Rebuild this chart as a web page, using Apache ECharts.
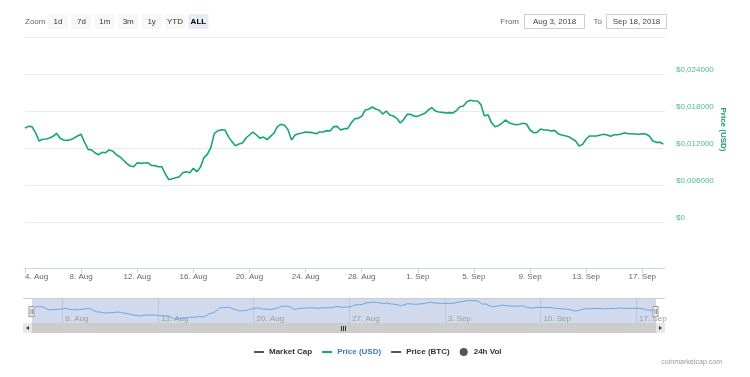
<!DOCTYPE html>
<html>
<head>
<meta charset="utf-8">
<script src="https://cdn.jsdelivr.net/npm/echarts@6/dist/echarts.min.js"></script>
<style>
html,body{margin:0;padding:0;background:#fff;}
#chart{width:750px;height:377px;}
</style>
</head>
<body>
<div id="chart"></div>
<script>
// ---------- data ----------
const seriesStart = '2018-08-04T00:00:00Z';
const stepHours = 6;
const priceUSD = [
 0.01524,0.01551,0.01546,0.01449,0.01314,0.01341,0.01346,0.01362,0.01389,0.01438,
 0.01357,0.01330,0.01324,0.01335,0.01362,0.01395,0.01422,0.01292,0.01178,0.01168,
 0.01119,0.01092,0.01130,0.01124,0.01168,0.01151,0.01092,0.01059,0.01005,0.00951,
 0.00908,0.00897,0.00962,0.00951,0.00957,0.00962,0.00919,0.00914,0.00897,0.00897,
 0.00778,0.00686,0.00703,0.00719,0.00735,0.00800,0.00816,0.00800,0.00870,0.00816,
 0.00886,0.01043,0.01097,0.01211,0.01438,0.01481,0.01497,0.01492,0.01384,0.01303,
 0.01238,0.01265,0.01281,0.01362,0.01411,0.01459,0.01411,0.01357,0.01378,0.01335,
 0.01389,0.01443,0.01551,0.01584,0.01568,0.01497,0.01330,0.01411,0.01432,0.01443,
 0.01459,0.01454,0.01449,0.01432,0.01459,0.01459,0.01481,0.01476,0.01546,0.01551,
 0.01492,0.01514,0.01514,0.01605,0.01676,0.01681,0.01714,0.01816,0.01827,0.01865,
 0.01832,0.01811,0.01751,0.01800,0.01735,0.01719,0.01681,0.01605,0.01665,0.01746,
 0.01746,0.01714,0.01714,0.01741,0.01762,0.01816,0.01854,0.01800,0.01784,0.01778,
 0.01768,0.01773,0.01768,0.01805,0.01870,0.01881,0.01951,0.01973,0.01962,0.01962,
 0.01903,0.01719,0.01741,0.01611,0.01546,0.01562,0.01605,0.01654,0.01611,0.01589,
 0.01578,0.01584,0.01600,0.01589,0.01492,0.01449,0.01454,0.01508,0.01492,0.01492,
 0.01476,0.01486,0.01432,0.01411,0.01400,0.01384,0.01351,0.01314,0.01232,0.01259,
 0.01346,0.01395,0.01395,0.01395,0.01411,0.01422,0.01411,0.01389,0.01416,0.01416,
 0.01427,0.01449,0.01432,0.01432,0.01427,0.01422,0.01432,0.01427,0.01395,0.01314,
 0.01292,0.01292,0.01265
];
const mainTickDates = ['2018-08-04','2018-08-08','2018-08-12','2018-08-16','2018-08-20','2018-08-24',
  '2018-08-28','2018-09-01','2018-09-05','2018-09-09','2018-09-13','2018-09-17'];
const navTickDates = ['2018-08-06','2018-08-13','2018-08-20','2018-08-27','2018-09-03','2018-09-10','2018-09-17'];
const mainRange = ['2018-08-04T00:00:00Z', '2018-09-18T14:53:00Z'];
const navRange = ['2018-08-03T06:29:00Z', '2018-09-19T02:53:00Z'];
const yMin = 0, yMax = 0.030, yStep = 0.006;
const legendNames = ['Market Cap', 'Price (USD)', 'Price (BTC)', '24h Vol'];
const zoomButtons = ['1d', '7d', '1m', '3m', '1y', 'YTD', 'ALL'];
const fromDate = 'Aug 3, 2018';
const toDate = 'Sep 18, 2018';
const monthNames = ['Jan','Feb','Mar','Apr','May','Jun','Jul','Aug','Sep','Oct','Nov','Dec'];

// ---------- build ----------
const t0 = Date.parse(seriesStart);
const priceData = priceUSD.map((p, i) => [t0 + i * stepHours * 3600000, p]);
const ms = s => Date.parse(s.length === 10 ? s + 'T00:00:00Z' : s);
const fmtDate = v => { const d = new Date(v); return d.getUTCDate() + '. ' + monthNames[d.getUTCMonth()]; };

const FF = '"Liberation Sans", Arial, sans-serif';
const GREEN = '#17a47b';
const LINE_ICON = 'path://M0,0H10V2H0Z';

const graphics = [];
// zoom buttons
graphics.push({type:'text', x:25, y:22, style:{text:'Zoom', fill:'#666', font:'8px ' + FF, align:'left', verticalAlign:'middle'}});
zoomButtons.forEach((b, i) => {
  const bx = 48 + i * 23.4;
  const sel = i === zoomButtons.length - 1;
  graphics.push({type:'rect', shape:{x:bx, y:14, width:20, height:15}, style:{fill: sel ? '#e6ebf5' : '#f7f7f7'}});
  graphics.push({type:'text', x:bx + 10, y:22, style:{text:b, fill: sel ? '#000' : '#333', font:(sel ? 'bold ' : '') + '8px ' + FF, align:'center', verticalAlign:'middle'}});
});
// date range inputs
graphics.push({type:'text', x:519, y:21.5, style:{text:'From', fill:'#666', font:'8px ' + FF, align:'right', verticalAlign:'middle'}});
graphics.push({type:'rect', shape:{x:524.5, y:14.5, width:60, height:14}, style:{fill:'#fff', stroke:'#cccccc', lineWidth:1}});
graphics.push({type:'text', x:554.5, y:21.5, style:{text:fromDate, fill:'#444', font:'8px ' + FF, align:'center', verticalAlign:'middle'}});
graphics.push({type:'text', x:602, y:21.5, style:{text:'To', fill:'#666', font:'8px ' + FF, align:'right', verticalAlign:'middle'}});
graphics.push({type:'rect', shape:{x:606.5, y:14.5, width:60, height:14}, style:{fill:'#fff', stroke:'#cccccc', lineWidth:1}});
graphics.push({type:'text', x:636.5, y:21.5, style:{text:toDate, fill:'#444', font:'8px ' + FF, align:'center', verticalAlign:'middle'}});
// navigator decorations
graphics.push({type:'rect', z:-10, shape:{x:32, y:298, width:624, height:25}, style:{fill:'rgba(102,133,194,0.3)'}});
graphics.push({type:'line', z:5, shape:{x1:23, y1:298.5, x2:665, y2:298.5}, style:{stroke:'#cccccc', lineWidth:1}});
// scrollbar
graphics.push({type:'rect', shape:{x:23, y:323, width:642, height:10}, style:{fill:'#f2f2f2'}});
graphics.push({type:'rect', shape:{x:32, y:323, width:624, height:10}, style:{fill:'#cccccc'}});
graphics.push({type:'rect', shape:{x:23, y:323, width:9, height:10}, style:{fill:'#e6e6e6'}});
graphics.push({type:'rect', shape:{x:656, y:323, width:9, height:10}, style:{fill:'#e6e6e6'}});
graphics.push({type:'polygon', shape:{points:[[26,328],[29,326],[29,330]]}, style:{fill:'#333'}});
graphics.push({type:'polygon', shape:{points:[[662,328],[659,326],[659,330]]}, style:{fill:'#333'}});
[341.5, 343.5, 345.5].forEach(gx => graphics.push({type:'line', shape:{x1:gx, y1:326, x2:gx, y2:331}, style:{stroke:'#333', lineWidth:1}}));
// handles
[31.5, 655.5].forEach(hx => {
  graphics.push({type:'rect', z:10, shape:{x:hx - 2.5, y:306.5, width:5, height:10}, style:{fill:'#f2f2f2', stroke:'#999', lineWidth:1}});
  graphics.push({type:'line', z:11, shape:{x1:hx - 0.5, y1:309, x2:hx - 0.5, y2:314}, style:{stroke:'#999', lineWidth:1}});
  graphics.push({type:'line', z:11, shape:{x1:hx + 1, y1:309, x2:hx + 1, y2:314}, style:{stroke:'#999', lineWidth:1}});
});
// credit
graphics.push({type:'text', x:722, y:362, style:{text:'coinmarketcap.com', fill:'#999', font:'7px ' + FF, align:'right', verticalAlign:'middle'}});

const chart = echarts.init(document.getElementById('chart'), null, {renderer:'canvas'});
chart.setOption({
  animation: false,
  backgroundColor: '#fff',
  textStyle: {fontFamily: FF},
  grid: [
    {left:25, top:37, width:640, height:185},
    {left:25, top:298, width:640, height:25},
    {left:25, top:230, width:640, height:38}
  ],
  legend: {
    left: 249, top: 343, itemWidth: 10, itemHeight: 8, itemGap: 10, selectedMode: false,
    itemStyle: {borderWidth: 0},
    textStyle: {fontFamily: FF, fontSize: 8, fontWeight: 'bold', color: '#333'},
    data: [
      {name: legendNames[0], icon: LINE_ICON},
      {name: legendNames[1], icon: LINE_ICON, textStyle: {color: '#3b78c3'}},
      {name: legendNames[2], icon: LINE_ICON},
      {name: legendNames[3], icon: 'circle'}
    ]
  },
  xAxis: [
    {
      type: 'value', gridIndex: 0, min: ms(mainRange[0]), max: ms(mainRange[1]), show: false
    },
    {
      type: 'value', gridIndex: 1, min: ms(navRange[0]), max: ms(navRange[1]),
      axisLine: {show: false},
      axisTick: {show: true, inside: true, length: 25, lineStyle: {color: '#bcc6e0'}, customValues: navTickDates.map(ms)},
      axisLabel: {inside: true, customValues: navTickDates.map(ms), formatter: fmtDate, color: '#999', fontSize: 8,
        margin: 0, align: 'left', padding: [0, 0, 0, 3], fontFamily: FF, hideOverlap: false},
      splitLine: {show: false}
    },
    {
      type: 'value', gridIndex: 2, min: ms(mainRange[0]), max: ms(mainRange[1]),
      axisLine: {show: true, lineStyle: {color: '#ccd6eb', width: 1}},
      axisTick: {show: true, length: 5, lineStyle: {color: '#ccd6eb'}, customValues: mainTickDates.map(ms)},
      axisLabel: {customValues: mainTickDates.map(ms), formatter: fmtDate, color: '#666', fontSize: 8, margin: 5,
        fontFamily: FF, alignMinLabel: 'left', hideOverlap: false},
      splitLine: {show: false}
    }
  ],
  yAxis: [
    {
      type: 'value', gridIndex: 0, position: 'right', min: yMin, max: yMax, interval: yStep,
      name: legendNames[1], nameLocation: 'middle', nameRotate: -90, nameGap: 54, nameMoveOverlap: false,
      nameTextStyle: {color: '#1a9e74', fontWeight: 'bold', fontSize: 8, fontFamily: FF},
      axisLine: {show: false}, axisTick: {show: false},
      axisLabel: {showMaxLabel: false, color: '#4cba93', fontSize: 8, margin: 11, fontFamily: FF,
        verticalAlign: 'bottom', lineHeight: 8,
        formatter: v => v === 0 ? '$0' : '$' + v.toFixed(6).replace('.', ',')},
      splitLine: {show: true, lineStyle: {color: '#ebebeb', width: 1}}
    },
    {
      type: 'value', gridIndex: 1, min: 0.004, max: 0.0215, show: false, splitLine: {show: false}
    },
    {
      type: 'value', gridIndex: 2, show: false, splitLine: {show: false}
    }
  ],
  series: [
    {name: legendNames[0], type: 'line', data: [], color: '#555', xAxisIndex: 0, yAxisIndex: 0},
    {name: legendNames[1], type: 'line', data: priceData, color: GREEN, xAxisIndex: 0, yAxisIndex: 0,
      showSymbol: false, symbol: 'none', lineStyle: {width: 1.6, color: GREEN}, z: 3},
    {name: legendNames[2], type: 'line', data: [], color: '#555', xAxisIndex: 0, yAxisIndex: 0},
    {name: legendNames[3], type: 'line', data: [], color: '#555', xAxisIndex: 0, yAxisIndex: 0},
    {name: 'navigator', type: 'line', data: priceData, xAxisIndex: 1, yAxisIndex: 1, showSymbol: false, symbol: 'none',
      color: '#6aa6e2', lineStyle: {width: 1, color: '#6aa6e2'}, z: 3}
  ],
  graphic: {elements: graphics}
});
</script>
</body>
</html>
